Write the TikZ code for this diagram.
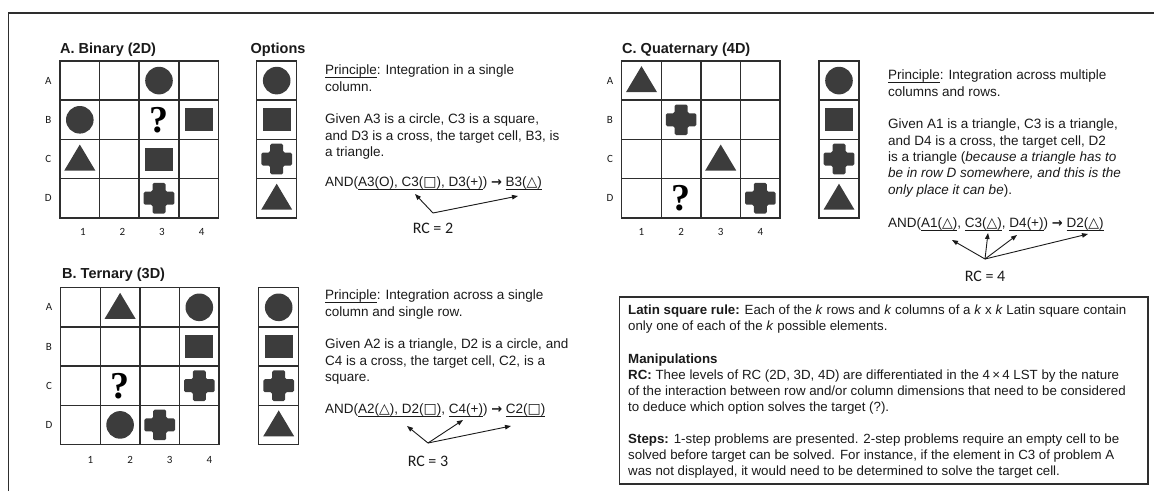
\documentclass[tikz,border=0pt]{standalone}
\usepackage{fontspec}
\setmainfont{Liberation Sans}
\newfontfamily\calfont{Carlito}
\newfontfamily\symfont{DejaVu Sans}
\newfontfamily\qfont{Liberation Serif}
\usetikzlibrary{arrows.meta,positioning,calc}

\definecolor{shp}{HTML}{3C3C3C}
\definecolor{ink}{HTML}{1A1A1A}
\definecolor{rule}{HTML}{2E2E2E}

\newcommand{\tsym}{{\symfont\fontsize{14}{12}\selectfont\char"25B3}}
\newcommand{\ssym}{{\symfont\fontsize{14}{12}\selectfont\char"25A1}}
\newcommand{\rsym}{{\symfont\bfseries\fontsize{13}{12}\selectfont\char"2192}}
\newcommand{\uln}[1]{\setbox0\hbox{#1}\rlap{\rule[-2.6pt]{\wd0}{0.6pt}}\box0}

\tikzset{
  pics/circ/.style={code={\fill[shp] (0,0) circle[radius=13.8pt];}},
  pics/sqr/.style={code={\fill[shp] (-14,-11.5) rectangle (14,11.5);}},
  pics/tri/.style={code={\fill[shp] (-15.5,11.5) -- (15.5,11.5) -- (0,-14.5) -- cycle;}},
  pics/crs/.style={code={\fill[shp, rounded corners=1.5pt] (-6.5,-15.3) -- (6.5,-15.3) -- (6.5,-6.5) -- (15.3,-6.5)
      -- (15.3,6.5) -- (6.5,6.5) -- (6.5,15.3) -- (-6.5,15.3) -- (-6.5,6.5) -- (-15.3,6.5) -- (-15.3,-6.5) -- (-6.5,-6.5) -- cycle;}}
}

\begin{document}
\begin{tikzpicture}[x=1pt, y=-1pt,
  lstcell/.style={draw=rule, line width=1.5pt, minimum width=39.6pt, minimum height=39.2pt, inner sep=0pt},
  optcell/.style={lstcell, minimum width=40pt},
  rowlab/.style={font=\calfont\fontsize{11}{13}\selectfont, text=ink, inner sep=0pt},
  paneltitle/.style={font=\bfseries\fontsize{14.5}{17}\selectfont, text=ink, anchor=west, inner sep=0pt},
  body/.style={font=\fontsize{13.5}{16.3}\selectfont, text=ink, align=left, anchor=north west, inner sep=0pt},
  expr/.style={font=\fontsize{13.5}{16.3}\selectfont, text=ink, anchor=base west, inner sep=0pt},
  rclab/.style={font=\calfont\fontsize{16}{18}\selectfont, text=ink, inner sep=0pt},
  qmark/.style={font=\qfont\bfseries\fontsize{38}{40}\selectfont, text=black, inner sep=0pt},
  ptr/.style={-{Triangle[length=6pt,width=4.5pt]}, line width=0.9pt, draw=ink},
  outerline/.style={draw=rule, line width=1.3pt}]
\useasboundingbox (0,0) rectangle (1154,491);
\draw[outerline] (8.5,491) |- (1154,13);
% grids and options
\foreach \g/\gx/\gy in {A/60/61,B/60.7/287.7,C/621.7/61}
  \foreach \r in {1,...,4}
    \foreach \c in {1,...,4}
      \node[lstcell] (\g-\r-\c) at ({\gx+39.6*(\c-0.5)},{\gy+39.2*(\r-0.5)}) {};
\foreach \g in {A,B,C}
  \foreach \l [count=\r] in {A,B,C,D}
    \node[rowlab] (\g-row-\r) at ($(\g-\r-1.west)+(-11,0)$) {\l};
\foreach \g/\dx/\dy in {A/3/13,B/10/14.7,C/0/13}
  \foreach \c in {1,...,4}
    \node[rowlab] (\g-col-\c) at ($(\g-4-\c.south)+(\dx,\dy)$) {\c};
\foreach \g/\ox/\oy in {A/276.7/61,B/278.7/287.7,C/839/61}
  \foreach \r in {1,...,4}
    \node[optcell] (\g-opt-\r) at (\ox,{\oy+39.2*(\r-0.5)}) {};
\foreach \g in {A,B,C} {
  \pic at (\g-opt-1) {circ};
  \pic at (\g-opt-2) {sqr};
  \pic at (\g-opt-3) {crs};
  \pic at (\g-opt-4) {tri};
}
% Binary
\node[paneltitle] (A-title) at (60,50) {A. Binary (2D)};
\node[paneltitle] (opt-title) at (250.5,50) {Options};
\pic at (A-1-3) {circ};
\pic at (A-2-1) {circ};
\node[qmark] (A-q) at (A-2-3) {?};
\pic at (A-2-4) {sqr};
\pic at (A-3-1) {tri};
\pic at (A-3-3) {sqr};
\pic at (A-4-3) {crs};
\node[body] (A-text) at (325,65) {\uln{Principle}: Integration in a single\\column.\\[16.3pt]Given A3 is a circle, C3 is a square,\\and D3 is a cross, the target cell, B3, is\\a triangle.};
\node[expr] (A-and) at (325,186.8) {AND(\uln{A3(O), C3(\ssym), D3(+)}) \rsym{} \uln{B3(\tsym)}};
\node[rclab] (A-rc) at (433,228) {RC = 2};
\coordinate (A-apex) at (433,213);
\coordinate (A-tip1) at (415,194);
\coordinate (A-tip2) at (518,196);
\draw[ptr] (A-apex) -- (A-tip1);
\draw[ptr] (A-apex) -- (A-tip2);
% Ternary
\node[paneltitle] (B-title) at (62,275) {B. Ternary (3D)};
\pic at (B-1-2) {tri};
\pic at (B-1-4) {circ};
\pic at (B-2-4) {sqr};
\node[qmark] (B-q) at (B-3-2) {?};
\pic at (B-3-4) {crs};
\pic at (B-4-2) {circ};
\pic at (B-4-3) {crs};
\node[body] (B-text) at (325,290) {\uln{Principle}: Integration across a single\\column and single row.\\[16.3pt]Given A2 is a triangle, D2 is a circle, and\\C4 is a cross, the target cell, C2, is a\\square.};
\node[expr] (B-and) at (325,413.8) {AND(\uln{A2(\tsym), D2(\ssym)}, \uln{C4(+)}) \rsym{} \uln{C2(\ssym)}};
\node[rclab] (B-rc) at (428,461) {RC = 3};
\coordinate (B-apex) at (428,443);
\coordinate (B-tip1) at (407,426);
\coordinate (B-tip2) at (463,420);
\coordinate (B-tip3) at (511,426);
\foreach \t in {1,2,3}
  \draw[ptr] (B-apex) -- (B-tip\t);
% Quaternary
\node[paneltitle] (C-title) at (622,50) {C. Quaternary (4D)};
\pic at (C-1-1) {tri};
\pic at (C-2-2) {crs};
\pic at (C-3-3) {tri};
\node[qmark] (C-q) at (C-4-2) {?};
\pic at (C-4-4) {crs};
\node[body] (C-text) at (888,70) {\uln{Principle}: Integration across multiple\\columns and rows.\\[16.3pt]Given A1 is a triangle, C3 is a triangle,\\and D4 is a cross, the target cell, D2\\is a triangle (\textit{because a triangle has to}\\\textit{be in row D somewhere, and this is the}\\\textit{only place it can be}).};
\node[expr] (C-and) at (888,227.8) {AND(\uln{A1(\tsym)}, \uln{C3(\tsym)}, \uln{D4(+)}) \rsym{} \uln{D2(\tsym)}};
\node[rclab] (C-rc) at (985,276) {RC = 4};
\coordinate (C-apex) at (985,259);
\coordinate (C-tip1) at (952,240);
\coordinate (C-tip2) at (988,233);
\coordinate (C-tip3) at (1017,235);
\coordinate (C-tip4) at (1088,234);
\foreach \t in {1,...,4}
  \draw[ptr] (C-apex) -- (C-tip\t);
% rules box
\draw[draw=rule, line width=1.1pt] (619.3,297) rectangle (1148,484);
\node[body, font=\fontsize{13.3}{16.1}\selectfont] (rules) at (628,305) {\textbf{Latin square rule:} Each of the \textit{k} rows and \textit{k} columns of a \textit{k} x \textit{k} Latin square contain\\only one of each of the \textit{k} possible elements.\\[16.1pt]\textbf{Manipulations}\\\textbf{RC:} Thee levels of RC (2D, 3D, 4D) are differentiated in the 4\,×\,4 LST by the nature\\of the interaction between row and/or column dimensions that need to be considered\\to deduce which option solves the target (?).\\[16.1pt]\textbf{Steps:} 1-step problems are presented. 2-step problems require an empty cell to be\\solved before target can be solved. For instance, if the element in C3 of problem A\\was not displayed, it would need to be determined to solve the target cell.};
\end{tikzpicture}
\end{document}
